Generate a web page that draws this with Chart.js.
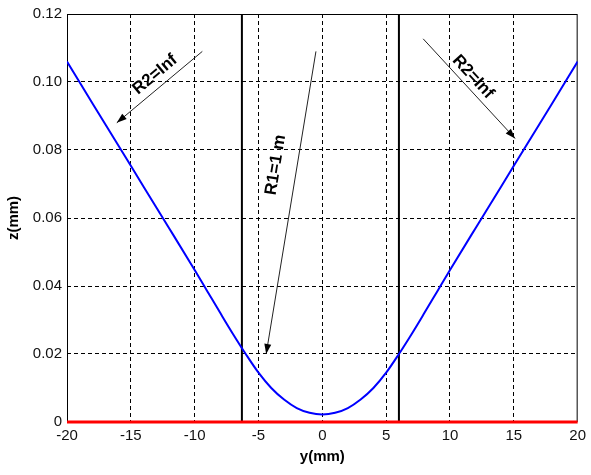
<!DOCTYPE html>
<html lang="en">
<head>
<meta charset="UTF-8">
<title>z(mm) vs y(mm)</title>
<script src="https://cdn.jsdelivr.net/npm/chart.js"></script>
<style>
  html, body { margin: 0; padding: 0; background: #fff; }
</style>
</head>
<body>
<canvas id="profileChart" width="591" height="475"></canvas>

<script>
  // blue profile
  const yMm = [-20, -18, -16, -14, -12, -10, -9, -8, -7, -6, -5, -4, -3, -2, -1, 0,
               1, 2, 3, 4, 5, 6, 7, 8, 9, 10, 12, 14, 16, 18, 20];
  const zMm = [0.106, 0.0937, 0.0815, 0.0692, 0.057, 0.0447, 0.0384, 0.0321, 0.0259, 0.02, 0.0145,
               0.01, 0.0066, 0.0041, 0.0027, 0.0022,
               0.0027, 0.0041, 0.0066, 0.01, 0.0145, 0.02, 0.0259, 0.0321, 0.0384, 0.0447,
               0.057, 0.0692, 0.0815, 0.0937, 0.106];

  // red base line and the two black edges
  const baseY = [-20, 20];
  const baseZ = [0, 0];
  const edgeY = [-6.3, 6];
  const zRange = [0, 0.12];

  // arrows with their notes (data units)
  const noteText = ['R2=Inf', 'R1=1 m', 'R2=Inf'];
  const noteFromY = [-9.4, -0.5, 7.9];
  const noteFromZ = [0.109, 0.109, 0.1127];
  const noteToY = [-16.1, -4.4, 15.1];
  const noteToZ = [0.088, 0.020, 0.0834];
  const noteAtY = [-13.1, -3.65, 11.8];
  const noteAtZ = [0.1022, 0.0756, 0.1015];

  const toPoints = (xs, ys) => xs.map((v, i) => ({x: v, y: ys[i]}));

  const datasets = [
    {
      data: toPoints(yMm, zMm),
      borderColor: '#0000ff',
      borderWidth: 2,
      pointRadius: 0,
      cubicInterpolationMode: 'monotone',
    },
    {
      data: toPoints(baseY, baseZ),
      borderColor: '#ff0000',
      borderWidth: 3,
      pointRadius: 0,
      clip: 4,
    }
  ];
  edgeY.forEach(v => {
    datasets.push({
      data: toPoints([v, v], zRange),
      borderColor: '#000',
      borderWidth: 2,
      pointRadius: 0,
    });
  });

  const frame = {
    id: 'frame',
    beforeDatasetsDraw(chart) {
      const {ctx, chartArea: a} = chart;
      ctx.save();
      ctx.strokeStyle = '#000';
      ctx.lineWidth = 1;
      ctx.strokeRect(a.left + 0.5, a.top + 0.5, a.width - 1, a.height - 1);
      ctx.restore();
    },
    afterDatasetsDraw(chart) {
      const {ctx, scales: {x, y}} = chart;
      ctx.save();
      noteText.forEach((txt, i) => {
        const x0 = x.getPixelForValue(noteFromY[i]);
        const y0 = y.getPixelForValue(noteFromZ[i]);
        const x1 = x.getPixelForValue(noteToY[i]);
        const y1 = y.getPixelForValue(noteToZ[i]);
        const ang = Math.atan2(y1 - y0, x1 - x0);

        ctx.strokeStyle = '#222';
        ctx.lineWidth = 1;
        ctx.beginPath();
        ctx.moveTo(x0, y0);
        ctx.lineTo(x1, y1);
        ctx.stroke();

        // arrow head
        ctx.fillStyle = '#000';
        ctx.beginPath();
        ctx.moveTo(x1, y1);
        ctx.lineTo(x1 - 10 * Math.cos(ang) + 3.5 * Math.sin(ang), y1 - 10 * Math.sin(ang) - 3.5 * Math.cos(ang));
        ctx.lineTo(x1 - 10 * Math.cos(ang) - 3.5 * Math.sin(ang), y1 - 10 * Math.sin(ang) + 3.5 * Math.cos(ang));
        ctx.closePath();
        ctx.fill();

        // note text, parallel to its arrow
        let rot = ang;
        if (Math.cos(rot) < 0) rot += Math.PI;
        ctx.translate(x.getPixelForValue(noteAtY[i]), y.getPixelForValue(noteAtZ[i]));
        ctx.rotate(rot);
        ctx.font = 'bold 17px Arial, "Liberation Sans", sans-serif';
        ctx.textAlign = 'center';
        ctx.textBaseline = 'middle';
        ctx.fillText(txt, 0, 0);
        ctx.setTransform(1, 0, 0, 1, 0, 0);
      });
      ctx.restore();
    }
  };

  const tickFont = {family: 'Arial, "Liberation Sans", sans-serif', size: 15};
  const titleFont = {family: 'Arial, "Liberation Sans", sans-serif', size: 15, weight: 'bold'};

  const chart = new Chart(document.getElementById('profileChart'), {
    type: 'line',
    data: {datasets: datasets},
    options: {
      responsive: false,
      animation: false,
      layout: {padding: {left: 0, right: 8, top: 12, bottom: 0}},
      plugins: {legend: {display: false}, tooltip: {enabled: false}},
      scales: {
        x: {
          type: 'linear',
          min: -20,
          max: 20,
          ticks: {stepSize: 5, color: '#111', font: tickFont, padding: 5},
          grid: {
            drawTicks: false,
            color: c => (c.tick && Math.abs(c.tick.value) === 20) ? 'rgba(0,0,0,0)' : '#000',
          },
          border: {display: false, dash: [4, 3]},
          title: {display: true, text: 'y(mm)', color: '#000', font: titleFont, padding: {top: 0, bottom: 9}},
          afterFit: s => { s.height = 53; }
        },
        y: {
          min: 0,
          max: 0.12,
          ticks: {stepSize: 0.02, color: '#111', font: tickFont, padding: 5},
          grid: {
            drawTicks: false,
            color: c => (c.tick && (c.tick.value === 0 || c.tick.value > 0.119)) ? 'rgba(0,0,0,0)' : '#000',
          },
          border: {display: false, dash: [4, 3]},
          title: {display: true, text: 'z(mm)', color: '#000', font: titleFont, padding: {top: 5, bottom: 0}},
          afterFit: s => { s.width = 67; }
        }
      }
    },
    plugins: [frame]
  });
</script>
</body>
</html>
